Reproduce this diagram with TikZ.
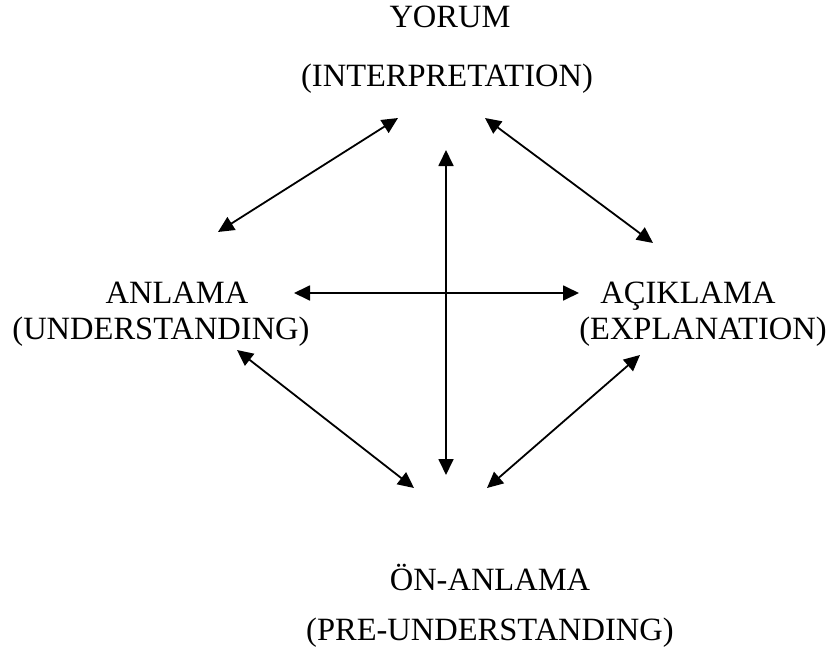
\documentclass[tikz,border=0pt]{standalone}
\usepackage{fontspec}
\setmainfont{Liberation Serif}
\usetikzlibrary{arrows.meta}

\begin{document}
\begin{tikzpicture}[x=0.5pt,y=-0.5pt,
    lbl/.style={anchor=base,inner sep=0pt,font=\fontsize{16.25}{19.5}\selectfont},
    link/.style={{Triangle[length=8pt,width=7.5pt]}-{Triangle[length=8pt,width=7.5pt]},line width=0.9pt}]
        \useasboundingbox (0,0) rectangle (831,648);
        % labels
        \node[lbl] (yorum) at (450,27) {YORUM};
        \node[lbl] (yorumEn) at (447,86) {(INTERPRETATION)};
        \node[lbl] (anlama) at (177,303) {ANLAMA};
        \node[lbl] (anlamaEn) at (161,339) {(UNDERSTANDING)};
        \node[lbl] (aciklama) at (688,303) {AÇIKLAMA};
        \node[lbl] (aciklamaEn) at (703,339) {(EXPLANATION)};
        \node[lbl] (onanlama) at (490,590) {ÖN-ANLAMA};
        \node[lbl] (onanlamaEn) at (490,640) {(PRE-UNDERSTANDING)};
        % arrow ends
        \coordinate (yA) at (398,118);
        \coordinate (aY) at (218,232);
        \coordinate (yC) at (485,118);
        \coordinate (cY) at (653,243);
        \coordinate (yO) at (446,150);
        \coordinate (oY) at (446,475);
        \coordinate (aC) at (294,293);
        \coordinate (cA) at (579,293);
        \coordinate (aO) at (237,350);
        \coordinate (oA) at (414,488);
        \coordinate (cO) at (640,355);
        \coordinate (oC) at (487,488);
        \draw[link] (yA) -- (aY);
        \draw[link] (yC) -- (cY);
        \draw[link] (yO) -- (oY);
        \draw[link] (aC) -- (cA);
        \draw[link] (aO) -- (oA);
        \draw[link] (cO) -- (oC);
\end{tikzpicture}
\end{document}
